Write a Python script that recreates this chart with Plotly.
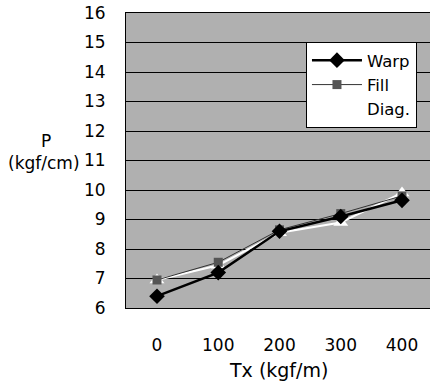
import plotly.graph_objects as go

tx = [0, 100, 200, 300, 400]
warp = [6.4, 7.2, 8.6, 9.1, 9.65]
fill = [6.95, 7.55, 8.65, 9.2, 9.8]
diag = [6.95, 7.45, 8.55, 8.9, 9.9]
y_ticks = list(range(6, 17))
x_ticks = [0, 100, 200, 300, 400]

fig = go.Figure()
fig.add_trace(go.Scatter(x=tx, y=diag, name="Diag.", mode="lines+markers",
                         line=dict(color="white", width=2),
                         marker=dict(symbol="triangle-up", size=13, color="white"),
                         legendrank=3))
fig.add_trace(go.Scatter(x=tx, y=fill, name="Fill", mode="lines+markers",
                         line=dict(color="#333333", width=1),
                         marker=dict(symbol="square", size=9, color="#555555"),
                         legendrank=2))
fig.add_trace(go.Scatter(x=tx, y=warp, name="Warp", mode="lines+markers",
                         line=dict(color="black", width=2.5),
                         marker=dict(symbol="diamond", size=12, color="black"),
                         legendrank=1))

font = "DejaVu Sans, Liberation Sans, Arial, sans-serif"
fig.update_layout(
    width=430, height=389,
    margin=dict(l=126, r=0, t=13, b=81),
    paper_bgcolor="white",
    plot_bgcolor="#b0b0b0",
    font=dict(family=font, size=17, color="black"),
    showlegend=True,
    legend=dict(x=0.592, y=0.902, xanchor="left", yanchor="top",
                bgcolor="white", bordercolor="black", borderwidth=1,
                font=dict(size=16.5), tracegroupgap=0, itemwidth=50,
                traceorder="normal"),
    xaxis=dict(range=[-50.6, 445.7], tickvals=x_ticks, showgrid=False,
               zeroline=False, showline=True, linecolor="black", linewidth=1,
               mirror=True, ticks="", ticklabelstandoff=22,
               tickfont=dict(size=17)),
    yaxis=dict(range=[6, 16], tickvals=y_ticks, showgrid=True,
               gridcolor="black", gridwidth=1, zeroline=False,
               showline=True, linecolor="black", linewidth=1, mirror=True,
               ticks="", ticklabelstandoff=16, tickfont=dict(size=17)),
    annotations=[
        dict(text="Tx (kgf/m)", xref="paper", yref="paper", x=0.5, y=0,
             xanchor="center", yanchor="middle", yshift=-62, showarrow=False,
             font=dict(size=19)),
        dict(text="P", xref="paper", yref="paper", x=-0.263, y=0.566,
             xanchor="center", yanchor="middle", showarrow=False,
             font=dict(size=17)),
        dict(text="(kgf/cm)", xref="paper", yref="paper", x=-0.27, y=0.492,
             xanchor="center", yanchor="middle", showarrow=False,
             font=dict(size=17)),
    ],
)

fig.write_html("out.html")
